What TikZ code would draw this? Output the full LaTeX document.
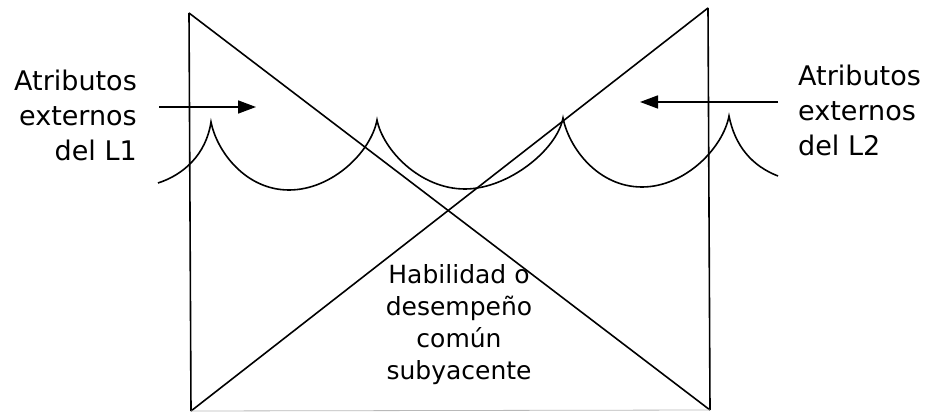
\documentclass[tikz,border=0pt]{standalone}
\usepackage{fontspec}
\setmainfont{DejaVu Sans}
\usetikzlibrary{arrows.meta}
\begin{document}
\begin{tikzpicture}[x=1pt,y=-1pt,
  edge/.style={line width=1.6pt,line join=miter},
  scallop/.style={line width=1.6pt},
  faint/.style={line width=0.8pt,gray!55},
  pointer/.style={line width=1.6pt,-{Triangle[length=18pt,width=13pt]}},
  sidetext/.style={inner sep=0pt,font=\fontsize{27}{35}\selectfont},
  midtext/.style={inner sep=0pt,align=center,font=\fontsize{25}{32}\selectfont}]
\useasboundingbox (0,0) rectangle (929,414);
% corners
\coordinate (tl) at (189,13);
\coordinate (bl) at (191,411);
\coordinate (tr) at (708,8);
\coordinate (br) at (710,410);
% box sides and cross
\draw[edge] (tl) -- (bl);
\draw[edge] (tr) -- (br);
\draw[edge] (tl) -- (br);
\draw[edge] (bl) -- (tr);
\draw[faint] (bl) -- (br);
% scallops
\coordinate (s0) at (158,183);
\coordinate (c1) at (211,122);
\coordinate (c2) at (377,120);
\coordinate (c3) at (563,118);
\coordinate (c4) at (729,116);
\coordinate (s5) at (778,176);
\draw[scallop] (s0) .. controls (183,175) and (206,155) .. (c1)
  .. controls (217,152) and (246,190) .. (289,190)
  .. controls (332,190) and (371,152) .. (c2)
  .. controls (383,150) and (420,189) .. (465,189)
  .. controls (508,189) and (557,150) .. (c3)
  .. controls (569,148) and (598,187) .. (642,187)
  .. controls (685,187) and (723,148) .. (c4)
  .. controls (735,146) and (752,166) .. (s5);
% texts
\node[sidetext,align=right,anchor=north east] (l1) at (137,70)
  {Atributos\\externos\\del L1};
\node[sidetext,align=left,anchor=north west] (l2) at (798,65)
  {Atributos\\externos\\del L2};
\node[midtext,anchor=north] (mid) at (459,264)
  {Habilidad o\\desempeño\\común\\subyacente};
% arrows
\coordinate (a1s) at (159,107);
\coordinate (a1e) at (256,107);
\coordinate (a2s) at (778,102);
\coordinate (a2e) at (640,102);
\draw[pointer] (a1s) -- (a1e);
\draw[pointer] (a2s) -- (a2e);
\end{tikzpicture}
\end{document}
